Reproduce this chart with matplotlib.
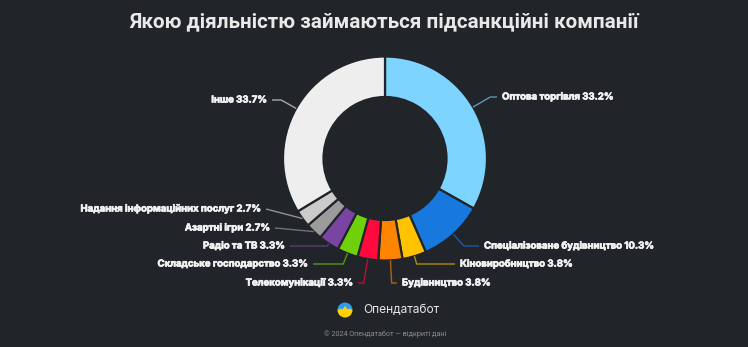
import numpy as np
import matplotlib
matplotlib.use("Agg")
import matplotlib.pyplot as plt
import matplotlib.patheffects as pe
from matplotlib.patches import Wedge, Polygon

# дані
categories = ["Оптова торгівля", "Спеціалізоване будівництво", "Кіновиробництво",
              "Будівництво", "Телекомунікації", "Складське господарство",
              "Радіо та ТВ", "Азартні ігри", "Надання інформаційних послуг", "Інше"]
shares = [33.2, 10.3, 3.8, 3.8, 3.3, 3.3, 3.3, 2.7, 2.7, 33.7]
colors = ["#7dd4ff", "#1778dd", "#ffc300", "#ff8400", "#ff0a3c", "#6fd10c",
          "#7a44a2", "#9b9b9b", "#cbcbcb", "#eeeeee"]

title = "Якою діяльністю займаються підсанкційні компанії"

BG = "#212529"
W, H = 748, 347

# розміщення підписів (x, y у пікселях зображення, вирівнювання)
label_pos = [(502, 97, "left"), (484, 246, "left"), (460, 264, "left"),
             (402, 283, "left"), (353, 283, "right"), (308, 264, "right"),
             (285, 246, "right"), (270, 228, "right"), (261, 209, "right"),
             (267, 100, "right")]

fig = plt.figure(figsize=(W / 100, H / 100), dpi=100, facecolor=BG)
ax = fig.add_axes([0, 0, 1, 1])
ax.set_facecolor(BG)

cx, cy = 385, H - 158.5
R, ring = 102, 40.5

wedges, _ = ax.pie(shares, colors=colors, startangle=90, counterclock=False,
                   radius=R, center=(cx, cy),
                   wedgeprops=dict(width=ring, edgecolor=BG, linewidth=1.6))

bold_fx = [pe.withStroke(linewidth=0.5, foreground="#f2f2f2")]
for w, name, val, (tx, ty, ha) in zip(wedges, categories, shares, label_pos):
    mid = np.deg2rad((w.theta1 + w.theta2) / 2)
    dx, dy = np.cos(mid), np.sin(mid)
    p0 = (cx + R * dx, cy + R * dy)
    ty_d = H - ty
    end = (tx - 5 if ha == "left" else tx + 5, ty_d)
    pts = [p0]
    if abs(dy) > 1e-6:
        t = (ty_d - p0[1]) / dy
        if 0 < t < 40:
            pts.append((p0[0] + t * dx, ty_d))
    pts.append(end)
    xs, ys = zip(*pts)
    ax.plot(xs, ys, color=w.get_facecolor(), alpha=0.65, lw=1, solid_capstyle="butt")
    ax.text(tx, ty_d, f"{name} {val}%", ha=ha, va="center", color="#f2f2f2",
            fontsize=6.9, fontweight="bold", family="Inter", path_effects=bold_fx)

ax.text(384, H - 22, title, ha="center", va="center", color="#e9e9e9",
        fontsize=14.9, fontweight="bold", family="Roboto")

# логотип
lx, ly, lr = 345, H - 310, 7.5
ax.add_patch(Wedge((lx, ly), lr, 0, 180, color="#2f9cf0", lw=0))
ax.add_patch(Wedge((lx, ly), lr, 180, 360, color="#ffd200", lw=0))
ax.add_patch(Polygon([(lx - lr, ly), (lx - 4, ly + 1.5), (lx - 2.5, ly + 0.5),
                      (lx, ly + 4), (lx + 2.5, ly + 0.5), (lx + 4, ly + 1.5),
                      (lx + lr, ly)], closed=True, color="#ffd200", lw=0))
ax.text(363, H - 310, "Опендатабот", ha="left", va="center", color="#e6e6e6",
        fontsize=8.6, family="Inter")
ax.text(385, H - 334, "© 2024 Опендатабот — відкриті дані", ha="center",
        va="center", color="#8c8c8c", fontsize=5.2, family="Roboto")

ax.set_xlim(0, W)
ax.set_ylim(0, H)
ax.set_aspect("auto")
ax.axis("off")

fig.savefig("out.png", dpi=100, facecolor=BG)
